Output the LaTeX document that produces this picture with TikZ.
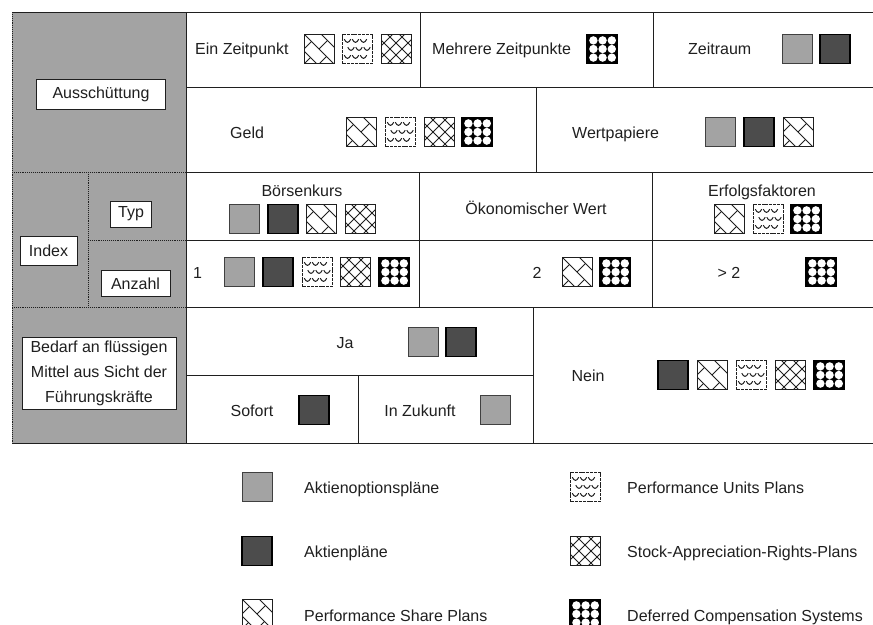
\documentclass[tikz,border=0pt]{standalone}
\usepackage{fontspec}
\setmainfont{Liberation Sans}
\definecolor{ink}{gray}{0.12}
\definecolor{shadecol}{gray}{0.64}
\definecolor{lgrey}{gray}{0.64}
\definecolor{dgrey}{gray}{0.30}
\begin{document}
\begin{tikzpicture}[x=1pt,y=-1pt,
  every node/.style={font=\fontsize{16}{24}\selectfont, text=ink, inner sep=0pt},
  rule/.style={draw=ink, line width=0.9pt},
  inrule/.style={draw=ink, line width=0.9pt, densely dotted},
  labbox/.style={draw=ink, fill=white, line width=0.9pt, align=center},
  txt/.style={anchor=base west},
  ctxt/.style={anchor=base},
  sqline/.style={draw=ink, line width=1pt},
  hatch/.style={draw=ink, line width=0.9pt},
  % Aktienoptionsplaene: light grey screen
  pics/lg/.style={code={
    \fill[lgrey] (-15,-14.5) rectangle (15,14.5);
    \draw[draw=black!75, line width=1pt] (-15,-14.5) rectangle (15,14.5);}},
  % Aktienplaene: dark grey screen
  pics/dk/.style={code={
    \fill[dgrey] (-15,-14.5) rectangle (15,14.5);
    \draw[draw=black, line width=1.1pt] (-15,-14.5) rectangle (15,14.5);}},
  % Performance Share Plans: diagonal brick hatching
  pics/psp/.style={code={
    \fill[white] (-15,-14.5) rectangle (15,14.5);
    \begin{scope}
      \clip (-15,-14.5) rectangle (15,14.5);
      \foreach \i in {-3,...,3}{
        \pgfmathsetmacro\c{17*\i}
        \draw[hatch] ({\c/2-40},{-\c/2-40}) -- ++(80,80);
        \foreach \j in {-3,...,3}{
          \pgfmathsetmacro\s{15*\j+7.5*mod(\i+10,2)}
          \draw[hatch] ({\s+\c/2},{\s-\c/2}) -- ++(8.5,-8.5);
        }
      }
    \end{scope}
    \draw[sqline] (-15,-14.5) rectangle (15,14.5);}},
  % Performance Units Plans: small arcs
  pics/pup/.style={code={
    \fill[white] (-15,-14.5) rectangle (15,14.5);
    \foreach \yy/\xo in {-8/-1.5,0/2,8/-1.5}{
      \foreach \xx in {-8,0,8}{
        \draw[ink, line width=0.95pt] ({\xx+\xo-3.2},{\yy-1.8}) .. controls ({\xx+\xo-1.4},{\yy+2.4}) and ({\xx+\xo+1.4},{\yy+2.4}) .. ({\xx+\xo+3.2},{\yy-1.8});
      }
    }
    \draw[sqline, dash pattern=on 3pt off 0.8pt] (-15,-14.5) rectangle (15,14.5);}},
  % Stock-Appreciation-Rights-Plans: diamond crosshatch
  pics/sar/.style={code={
    \fill[white] (-15,-14.5) rectangle (15,14.5);
    \begin{scope}
      \clip (-15,-14.5) rectangle (15,14.5);
      \foreach \i in {-4,...,4}{
        \pgfmathsetmacro\c{12*\i+6}
        \draw[hatch] ({\c/2-40},{-\c/2-40}) -- ++(80,80);
        \draw[hatch] ({\c/2-40},{\c/2+40}) -- ++(80,-80);
      }
    \end{scope}
    \draw[sqline] (-15,-14.5) rectangle (15,14.5);}},
  % Deferred Compensation Systems: white discs on black
  pics/dcs/.style={code={
    \fill[black] (-15,-14.5) rectangle (15,14.5);
    \foreach \xx in {-8.6,0.6,9.8}{
      \foreach \yy in {-8.6,0,8.6}{
        \fill[white] (\xx,\yy) circle (4.2);
      }
    }
    \draw[draw=black, line width=1.6pt] (-15,-14.5) rectangle (15,14.5);}}
]
\useasboundingbox (0,0) rectangle (873,624);

% ---- shaded heading column ----
\fill[shadecol] (12,12) rectangle (186,443);

% ---- table rules ----
\draw[rule] (12,12) -- (873,12);
\draw[rule] (186,87) -- (873,87);
\draw[rule] (186,172) -- (873,172);
\draw[inrule] (12,172) -- (186,172);
\draw[rule] (186,240) -- (873,240);
\draw[inrule] (88,240) -- (186,240);
\draw[rule] (186,307) -- (873,307);
\draw[inrule] (12,307) -- (186,307);
\draw[rule] (186,375) -- (533,375);
\draw[rule] (12,443) -- (873,443);
\draw[inrule] (12,12) -- (12,443);
\draw[rule] (186,12) -- (186,443);
\draw[inrule] (88,172) -- (88,307);
\draw[rule] (420,12) -- (420,87);
\draw[rule] (653,12) -- (653,87);
\draw[rule] (536,87) -- (536,172);
\draw[rule] (419,172) -- (419,307);
\draw[rule] (652,172) -- (652,307);
\draw[rule] (533,307) -- (533,443);
\draw[rule] (358,375) -- (358,443);

% ---- heading labels ----
\node[labbox, minimum width=129pt, minimum height=30pt] (aus) at (101,94.5) {Aussch\"uttung};
\node[labbox, minimum width=57pt, minimum height=29pt] (idx) at (48.5,250.5) {Index};
\node[labbox, minimum width=41pt, minimum height=26pt] (typ) at (131,214) {Typ};
\node[labbox, minimum width=69pt, minimum height=26pt] (anz) at (135.5,283.5) {Anzahl};
\node[labbox, minimum width=154pt, minimum height=72pt, font=\fontsize{16}{25}\selectfont] (bed) at (99,373)
  {Bedarf an fl\"ussigen\\Mittel aus Sicht der\\F\"uhrungskr\"afte};

% ---- cell texts ----
\node[txt] (ein) at (195,54) {Ein Zeitpunkt};
\node[txt] (meh) at (432,54) {Mehrere Zeitpunkte};
\node[txt] (zra) at (688,54) {Zeitraum};
\node[txt] (gel) at (230,138) {Geld};
\node[txt] (wer) at (572,138) {Wertpapiere};
\node[ctxt] (boe) at (302,196) {B\"orsenkurs};
\node[ctxt] (oek) at (536,214) {\"Okonomischer Wert};
\node[ctxt] (erf) at (762,196) {Erfolgsfaktoren};
\node[txt] (one) at (193,278) {1};
\node[ctxt] (two) at (537,278) {2};
\node[ctxt] (gt2) at (729,278) {> 2};
\node[ctxt] (ja) at (345,348) {Ja};
\node[ctxt] (sof) at (252,416) {Sofort};
\node[ctxt] (zuk) at (420,416) {In Zukunft};
\node[ctxt] (nei) at (588,381) {Nein};

% ---- plan markers in the cells ----
\pic at (319,49) {psp}; \pic at (357,49) {pup}; \pic at (396,49) {sar};
\pic at (602,49) {dcs};
\pic at (797,49) {lg}; \pic at (835,49) {dk};
\pic at (361,132) {psp}; \pic at (400,132) {pup}; \pic at (439,132) {sar}; \pic at (477,132) {dcs};
\pic at (720,132) {lg}; \pic at (759,132) {dk}; \pic at (798,132) {psp};
\pic at (244,219) {lg}; \pic at (283,219) {dk}; \pic at (321,219) {psp}; \pic at (360,219) {sar};
\pic at (729,219) {psp}; \pic at (768,219) {pup}; \pic at (806,219) {dcs};
\pic at (239,272) {lg}; \pic at (278,272) {dk}; \pic at (317,272) {pup}; \pic at (355,272) {sar}; \pic at (394,272) {dcs};
\pic at (577,272) {psp}; \pic at (615,272) {dcs};
\pic at (821,272) {dcs};
\pic at (423,342) {lg}; \pic at (461,342) {dk};
\pic at (314,410) {dk}; \pic at (495,410) {lg};
\pic at (673,375) {dk}; \pic at (712,375) {psp}; \pic at (751,375) {pup}; \pic at (790,375) {sar}; \pic at (829,375) {dcs};

% ---- legend ----
\pic at (257,487) {lg};
\pic at (257,551) {dk};
\pic at (257,614) {psp};
\pic at (585,487) {pup};
\pic at (585,551) {sar};
\pic at (585,614) {dcs};
\node[txt] (l1) at (304,493) {Aktienoptionspl\"ane};
\node[txt] (l2) at (304,557) {Aktienpl\"ane};
\node[txt] (l3) at (304,621) {Performance Share Plans};
\node[txt] (r1) at (627,493) {Performance Units Plans};
\node[txt] (r2) at (627,557) {Stock-Appreciation-Rights-Plans};
\node[txt] (r3) at (627,621) {Deferred Compensation Systems};
\end{tikzpicture}
\end{document}
